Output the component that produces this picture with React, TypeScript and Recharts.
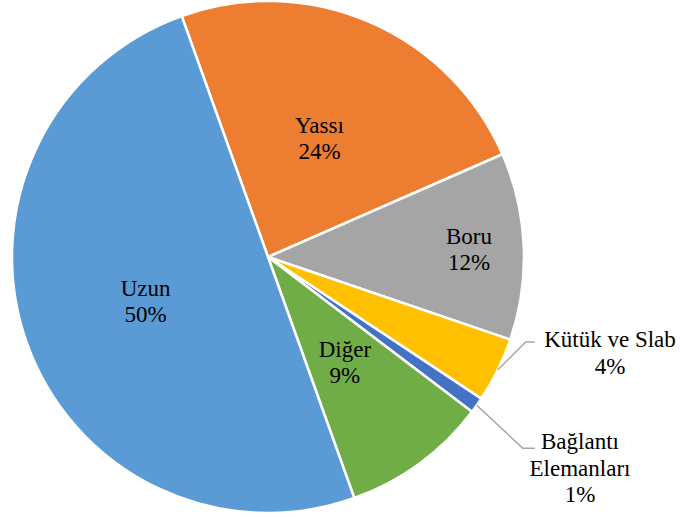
import { PieChart, Pie, Cell } from 'recharts'

// kategori ve pay (%), saat yönünde
const categories = ['Yassı', 'Boru', 'Kütük ve Slab', 'Bağlantı Elemanları', 'Diğer', 'Uzun']
const shares = [23.9, 11.8, 4.1, 1.0, 9.2, 50.0]
const colors = ['#ED7D31', '#A5A5A5', '#FFC000', '#4472C4', '#70AD47', '#5B9BD5']

const data = categories.map((name, i) => ({ name, value: shares[i] }))

const RADIAN = Math.PI / 180
const FONT = '"Times New Roman", Times, "Liberation Serif", "DejaVu Serif", serif'
const LINE_H = 26.5

// içerideki etiketler: yarıçap oranı; dışarıdakiler: kırık çizgi
const insideFactor: Record<number, number> = { 0: 0.508, 1: 0.786, 4: 0.508, 5: 0.508 }
const outside: Record<number, { elbow: [number, number]; tail: number; lines: string[]; tx: number; ty: number }> = {
  2: { elbow: [28, -28], tail: 9, lines: ['Kütük ve Slab'], tx: 610, ty: 347 },
  3: { elbow: [46, 43], tail: 12, lines: ['Bağlantı', 'Elemanları'], tx: 580, ty: 449 },
}

const Label = ({ x, y, lines }: { x: number; y: number; lines: string[] }) => (
  <text x={x} y={y} textAnchor="middle" fill="#000" style={{ fontFamily: FONT, fontSize: 23 }}>
    {lines.map((l, i) => (
      <tspan key={i} x={x} dy={i === 0 ? 0 : LINE_H}>
        {l}
      </tspan>
    ))}
  </text>
)

const renderLabel = (props: any) => {
  const { cx, cy, midAngle, outerRadius, percent, index, name } = props
  const pct = `${Math.round(percent * 100)}%`
  const cos = Math.cos(-midAngle * RADIAN)
  const sin = Math.sin(-midAngle * RADIAN)

  if (insideFactor[index] !== undefined) {
    const r = outerRadius * insideFactor[index]
    return <Label x={cx + r * cos} y={cy + r * sin - 5} lines={[name, pct]} />
  }

  const o = outside[index]
  const sx = cx + outerRadius * cos
  const sy = cy + outerRadius * sin
  const ex = sx + o.elbow[0]
  const ey = sy + o.elbow[1]
  return (
    <g>
      <polyline
        points={`${sx},${sy} ${ex},${ey} ${ex + o.tail},${ey}`}
        fill="none"
        stroke="#A6A6A6"
        strokeWidth={1.5}
      />
      <Label x={o.tx} y={o.ty} lines={[...o.lines, pct]} />
    </g>
  )
}

export default function App() {
  return (
    <div style={{ position: 'absolute', left: 0, top: 0, width: 680, height: 517, background: '#fff', fontFamily: FONT }}>
      <PieChart width={680} height={517} margin={{ top: 0, right: 0, bottom: 0, left: 0 }}>
        <Pie
          data={data}
          dataKey="value"
          nameKey="name"
          cx={268}
          cy={257}
          outerRadius={256}
          startAngle={109.7}
          endAngle={-250.3}
          stroke="#fff"
          strokeWidth={2.5}
          label={renderLabel}
          labelLine={false}
          isAnimationActive={false}
        >
          {data.map((d, i) => (
            <Cell key={d.name} fill={colors[i]} />
          ))}
        </Pie>
      </PieChart>
    </div>
  )
}
